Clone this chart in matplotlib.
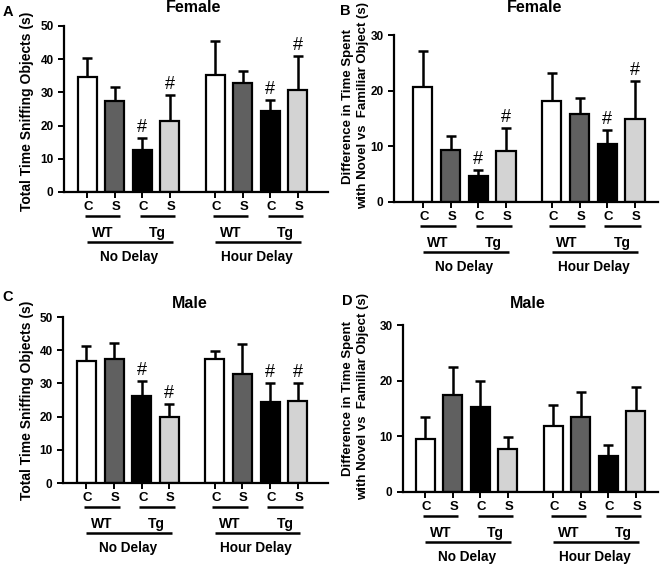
import matplotlib
matplotlib.use("Agg")
import matplotlib.pyplot as plt
import numpy as np

plt.rcParams['font.family'] = ['Liberation Sans', 'DejaVu Sans']
plt.rcParams['font.weight'] = 'bold'

# ---- data ----
treat_labels = ["C", "S", "C", "S", "C", "S", "C", "S"]
genotype_labels = ["WT", "Tg", "WT", "Tg"]
delay_labels = ["No Delay", "Hour Delay"]
bar_colors = ["#ffffff", "#606060", "#000000", "#d3d3d3"] * 2

A_mean = [34.6, 27.3, 12.7, 21.5, 35.2, 32.8, 24.4, 30.8]
A_sem = [5.9, 4.3, 3.5, 7.6, 10.2, 3.5, 3.4, 10.2]
A_sig = [0, 0, 1, 1, 0, 0, 1, 1]

B_mean = [20.6, 9.3, 4.6, 9.1, 18.2, 15.8, 10.4, 14.9]
B_sem = [6.5, 2.5, 1.1, 4.2, 5.0, 2.9, 2.6, 6.9]
B_sig = [0, 0, 1, 1, 0, 0, 1, 1]

C_mean = [36.8, 37.5, 26.2, 20.0, 37.3, 32.8, 24.4, 24.7]
C_sem = [4.6, 4.6, 4.4, 3.7, 2.5, 9.1, 5.8, 5.5]
C_sig = [0, 0, 1, 1, 0, 0, 1, 1]

D_mean = [9.6, 17.5, 15.2, 7.8, 11.8, 13.4, 6.5, 14.6]
D_sem = [3.8, 4.9, 4.8, 2.1, 3.9, 4.5, 1.9, 4.2]
D_sig = [0, 0, 0, 0, 0, 0, 0, 0]

label_total = ["Total Time Sniffing Objects (s)"]
label_diff = ["Difference in Time Spent", "with Novel vs  Familiar Object (s)"]

W, H = 661, 565
fig = plt.figure(figsize=(W / 100, H / 100), dpi=100)

xpos = np.array([0, 1, 2, 3, 4.65, 5.65, 6.65, 7.65])


def px_axes(left, right, top, bottom):
    return fig.add_axes([left / W, 1 - bottom / H, (right - left) / W, (bottom - top) / H])


def panel(rect, mean, sem, sig, ymax, ystep, ylabel_lines, ylabel_pos, ylabel_fs,
          title, letter, xlim, title_xy, letter_xy):
    left, right, top, bottom = rect
    ax = px_axes(left, right, top, bottom)
    hpx = bottom - top
    ax.bar(xpos, mean, width=0.69, color=bar_colors, edgecolor="black",
           linewidth=1.6, zorder=2)
    ax.errorbar(xpos, mean, yerr=[np.zeros(len(mean)), sem], fmt="none",
                ecolor="black", elinewidth=1.8, capsize=3.6, capthick=1.8, zorder=1)
    for x, m, s, g in zip(xpos, mean, sem, sig):
        if g:
            ax.text(x, m + s + ymax * 0.012, "#", ha="center", va="bottom",
                    fontsize=13, fontweight="normal")
    ax.set_xlim(*xlim)
    ax.set_ylim(0, ymax)
    ax.set_yticks(np.arange(0, ymax + 0.1, ystep))
    ax.set_xticks(xpos)
    ax.set_xticklabels([])
    ax.tick_params(axis="both", direction="out", length=4, width=1.4,
                   labelsize=8.5)
    for lab in ax.get_yticklabels():
        lab.set_fontweight("bold")
    for sp in ["top", "right"]:
        ax.spines[sp].set_visible(False)
    for sp in ["left", "bottom"]:
        ax.spines[sp].set_linewidth(1.6)
    tr = ax.get_xaxis_transform()

    def fy(px):
        return -px / hpx

    for x, t in zip(xpos, treat_labels):
        ax.text(x + 0.04, fy(15), t, transform=tr, ha="center", va="center",
                fontsize=9.5, fontweight="bold", clip_on=False)
    for gi in range(4):
        c1, c2 = xpos[2 * gi], xpos[2 * gi + 1]
        ax.plot([c1 - 0.1, c2 + 0.2], [fy(24), fy(24)], transform=tr,
                color="black", lw=1.8, clip_on=False, solid_capstyle="butt")
        ax.text((c1 + c2) / 2 + 0.05, fy(41), genotype_labels[gi], transform=tr,
                ha="center", va="center", fontsize=10, fontweight="bold",
                clip_on=False)
    for di in range(2):
        c1, c4 = xpos[4 * di], xpos[4 * di + 3]
        ax.plot([c1, c4 + 0.1], [fy(50), fy(50)], transform=tr,
                color="black", lw=1.8, clip_on=False, solid_capstyle="butt")
        ax.text((c1 + c4) / 2, fy(65), delay_labels[di], transform=tr,
                ha="center", va="center", fontsize=9.8, fontweight="bold",
                clip_on=False)
    fig.text(title_xy[0] / W, 1 - title_xy[1] / H, title, ha="center",
             va="center", fontsize=11.5, fontweight="bold")
    fig.text(letter_xy[0] / W, 1 - letter_xy[1] / H, letter, ha="center",
             va="center", fontsize=10.5, fontweight="bold")
    for line, (lx, ly) in zip(ylabel_lines, ylabel_pos):
        fig.text(lx / W, 1 - ly / H, line, rotation=90, ha="center",
                 va="center", fontsize=ylabel_fs, fontweight="bold")
    return ax


panel((64, 328, 26, 192), A_mean, A_sem, A_sig, 50, 10, label_total, [(27, 111)], 10,
      "Female", "A", (-0.85, 8.75), (194, 8), (8, 12))
panel((394, 658, 35, 202), B_mean, B_sem, B_sig, 30, 10, label_diff,
      [(348, 107), (363, 105)], 9.5, "Female", "B", (-1.04, 8.48), (535, 8), (345, 11))
panel((63, 328, 317, 483), C_mean, C_sem, C_sig, 50, 10, label_total, [(27, 400)], 10,
      "Male", "C", (-0.85, 8.75), (190, 303), (8, 297))
panel((403, 658, 325, 492), D_mean, D_sem, D_sig, 30, 10, label_diff,
      [(348, 398), (363, 396)], 9.5, "Male", "D", (-0.81, 8.45), (528, 303), (347, 301))

fig.savefig("out.png", dpi=100)
